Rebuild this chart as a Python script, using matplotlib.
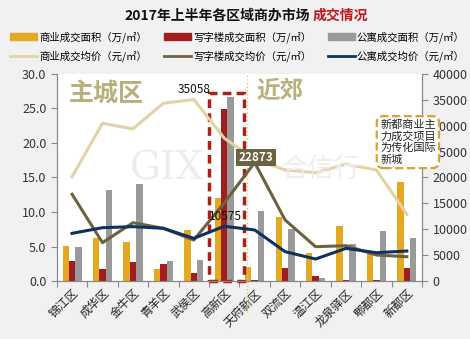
import matplotlib
matplotlib.use("Agg")
import matplotlib.pyplot as plt
import numpy as np
from matplotlib.patches import Rectangle
from matplotlib.lines import Line2D

plt.rcParams['font.family'] = ['Noto Sans CJK SC', 'DejaVu Sans']

# 各区域数据
districts = ['锦江区', '成华区', '金牛区', '青羊区', '武侯区', '高新区',
             '天府新区', '双流区', '温江区', '龙泉驿区', '郫都区', '新都区']
shop_area = [5.1, 6.2, 5.7, 1.7, 7.4, 12.0, 2.0, 9.3, 4.0, 8.0, 4.0, 14.3]
office_area = [2.9, 1.7, 2.8, 2.5, 1.2, 24.9, 0.1, 1.9, 0.7, 0.1, 0.1, 1.9]
apt_area = [5.0, 13.2, 14.0, 2.9, 3.1, 26.6, 10.1, 7.6, 0.4, 5.3, 7.2, 6.2]
shop_price = [20150, 30470, 29380, 34330, 35058, 27600, 23500, 21450, 20930, 22550, 21450, 12880]
office_price = [16750, 7410, 11270, 10180, 7920, 15100, 22873, 11790, 6630, 6830, 5020, 4700]
apt_price = [9210, 10300, 10500, 10180, 8240, 10575, 9860, 5670, 4250, 6310, 5470, 5800]

c_shop = '#E5A823'
c_office = '#A21E1E'
c_apt = '#9A9A9A'
c_shop_p = '#E2D2A6'
c_office_p = '#6B6340'
c_apt_p = '#10305F'

fig = plt.figure(figsize=(4.70, 3.39), dpi=100, facecolor='#f1f1f1')
ax = fig.add_axes([0.121, 0.171, 0.777, 0.611])
ax.set_facecolor('white')
ax2 = ax.twinx()

x = np.arange(len(districts))
w = 0.21
ax.bar(x - w, shop_area, w, color=c_shop, zorder=2)
ax.bar(x, office_area, w, color=c_office, zorder=2)
ax.bar(x + w, apt_area, w, color=c_apt, zorder=2)

ax2.plot(x, shop_price, color=c_shop_p, lw=2.2, zorder=3)
ax2.plot(x, office_price, color=c_office_p, lw=2.2, zorder=3)
ax2.plot(x, apt_price, color=c_apt_p, lw=2.2, zorder=3)

ax.set_xlim(-0.5, len(districts) - 0.5)
ax.set_ylim(0, 30)
ax2.set_ylim(0, 40000)
ax.set_yticks(np.arange(0, 31, 5))
ax.set_yticklabels([f'{v:.1f}' for v in np.arange(0, 31, 5)], fontsize=9, color='#333333')
ax2.set_yticks(np.arange(0, 40001, 5000))
ax2.set_yticklabels([str(v) for v in range(0, 40001, 5000)], fontsize=9, color='#333333')

ax.set_xticks(np.arange(-0.5, len(districts), 1), minor=False)
ax.set_xticklabels([])
ax.set_xticks(x, minor=True)
ax.set_xticklabels(districts, minor=True, rotation=45, ha='right', rotation_mode='anchor',
                   fontsize=8.5, color='#222222')
ax.tick_params(axis='x', which='minor', length=0, pad=4)
ax.tick_params(axis='x', which='major', length=4, color='#888888')
ax.tick_params(axis='y', length=4, color='#888888')
ax2.tick_params(axis='y', length=4, color='#888888')

for a in (ax, ax2):
    a.spines['top'].set_visible(False)
    for s in ('left', 'right', 'bottom'):
        a.spines[s].set_color('#888888')

# 水印
fig.text(0.355, 0.50, 'GIX', fontsize=28, family='DejaVu Serif', color='#ededed', zorder=0.5,
         ha='center', va='center')
fig.text(0.685, 0.50, '合信行', fontsize=19, color='#ededed', zorder=0.5, ha='center', va='center')

# 区域标注
ax.text(-0.1, 27.0, '主城区', fontsize=18, fontweight='bold', color='#B7AF7C', va='center')
ax.text(6.05, 27.5, '近郊', fontsize=17, fontweight='bold', color='#B7AF7C', va='center')

# 高新区虚线框
ax.add_patch(Rectangle((4.5, 0.0), 1.15, 27.2, fill=False, ls=(0, (2.5, 1.5)),
                       lw=2.5, ec='#A8211B', zorder=4, clip_on=False))
ax.axvline(5.75, ymin=-0.15, ymax=1.0, color='#F0C060', ls=':', lw=1, zorder=4, clip_on=False)

# 数值标签
ax2.text(4.0, 35058 + 700, '35058', fontsize=8.5, color='#111111', ha='center', va='bottom', zorder=5)
ax2.text(5.05, 10575 + 600, '10575', fontsize=8.5, color='#111111', ha='center', va='bottom', zorder=5)
ax2.text(6.05, 22873 + 1000, '22873', fontsize=8.5, color='white', fontweight='bold', ha='center',
         va='center', zorder=6,
         bbox=dict(boxstyle='square,pad=0.2', fc=c_office_p, ec='none'))

# 新都说明框
ax2.text(10.12, 31200, '新都商业主\n力成交项目\n为传化国际\n新城', fontsize=8, color='#222222',
         va='top', ha='left', linespacing=1.15, zorder=6,
         bbox=dict(boxstyle='round,pad=0.3,rounding_size=0.6', fc='white',
                   ec='#D9A233', ls='--', lw=1.6))

# 标题
fig.text(0.265, 0.955, '2017年上半年各区域商办市场', fontsize=10, fontweight='bold',
         color='#111111', ha='left', va='center')
fig.text(0.665, 0.955, '成交情况', fontsize=10, fontweight='bold', color='#C0161B',
         ha='left', va='center')

handles = [
    Rectangle((0, 0), 1, 1, color=c_shop),
    Line2D([], [], color=c_shop_p, lw=2),
    Rectangle((0, 0), 1, 1, color=c_office),
    Line2D([], [], color=c_office_p, lw=2),
    Rectangle((0, 0), 1, 1, color=c_apt),
    Line2D([], [], color=c_apt_p, lw=2),
]
labels = ['商业成交面积（万/㎡）', '商业成交均价（元/㎡）',
          '写字楼成交面积（万/㎡）', '写字楼成交均价（元/㎡）',
          '公寓成交面积（万/㎡）', '公寓成交均价（元/㎡）']
fig.legend(handles, labels, ncol=3, loc='upper center', bbox_to_anchor=(0.505, 0.935),
           frameon=False, fontsize=7.5, handlelength=2.6, handleheight=0.6,
           columnspacing=1.6, handletextpad=0.2, labelspacing=0.7)

fig.savefig('out.png', dpi=100, facecolor=fig.get_facecolor())
